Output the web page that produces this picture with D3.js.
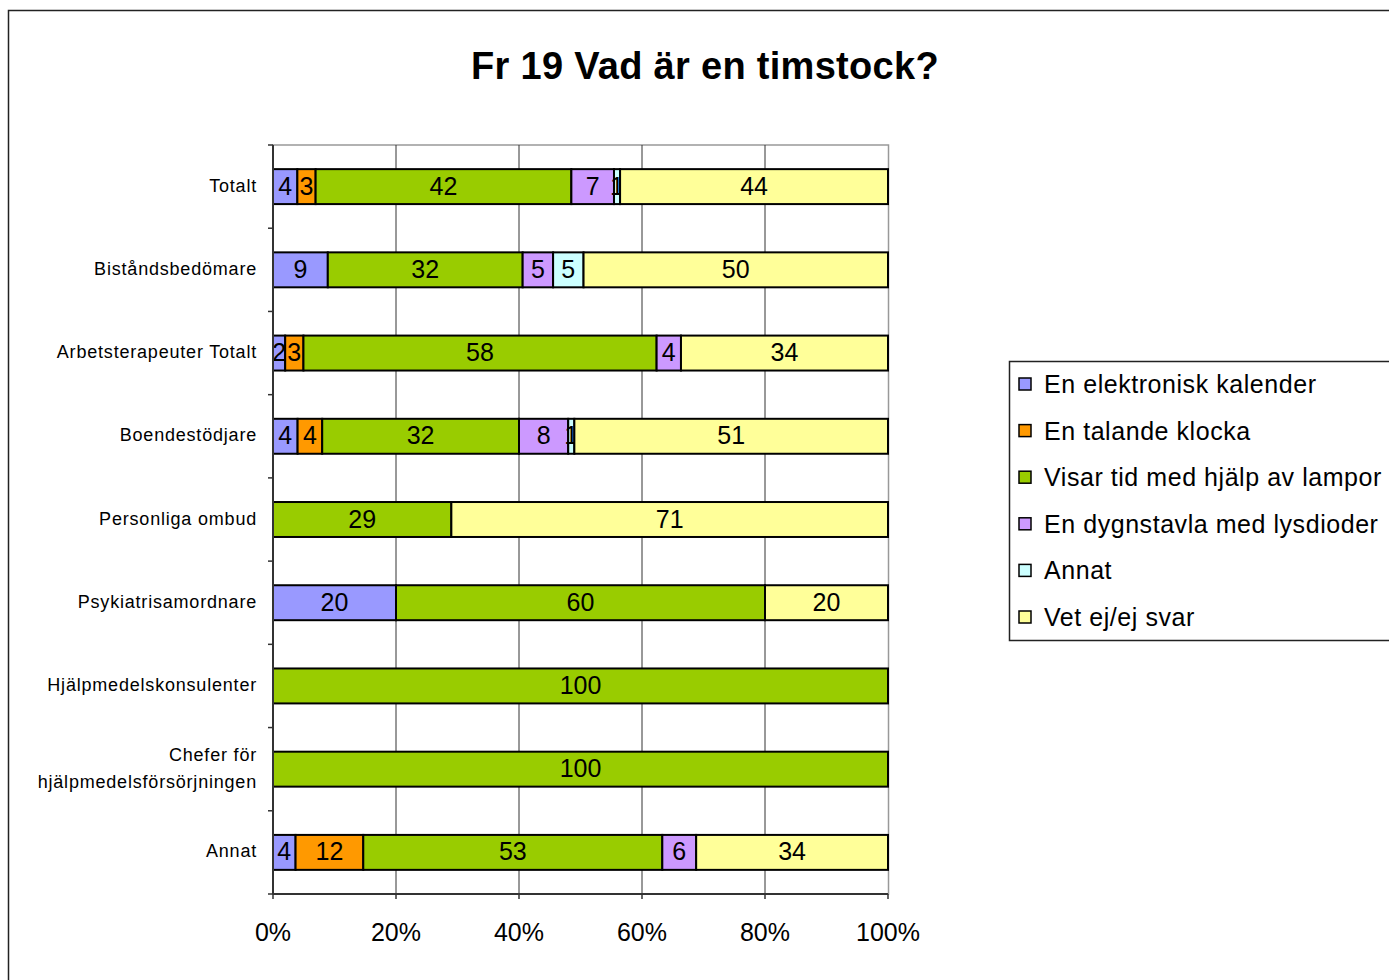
<!DOCTYPE html>
<html>
<head>
<meta charset="utf-8">
<script src="https://cdn.jsdelivr.net/npm/d3@7"></script>
<style>
  body { margin: 0; background: #fff; }
  svg { font-family: "Liberation Sans", Arial, sans-serif; }
</style>
</head>
<body>
<div id="chart"></div>
<script>
var categories = ['Totalt', 'Biståndsbedömare', 'Arbetsterapeuter Totalt', 'Boendestödjare',
  'Personliga ombud', 'Psykiatrisamordnare', 'Hjälpmedelskonsulenter',
  'Chefer för\nhjälpmedelsförsörjningen', 'Annat'];
var seriesNames = ['En elektronisk kalender', 'En talande klocka', 'Visar tid med hjälp av lampor',
  'En dygnstavla med lysdioder', 'Annat', 'Vet ej/ej svar'];
var colors = ['#9999ff', '#ff9900', '#99cc00', '#cc99ff', '#ccffff', '#ffff99'];

// one array per series, in category order
var kalender = [4, 9, 2, 4, 0, 20, 0, 0, 4];
var klocka   = [3, 0, 3, 4, 0, 0, 0, 0, 12];
var lampor   = [42, 32, 58, 32, 29, 60, 100, 100, 53];
var dygn     = [7, 5, 4, 8, 0, 0, 0, 0, 6];
var annat    = [1, 5, 0, 1, 0, 0, 0, 0, 0];
var vetej    = [44, 50, 34, 51, 71, 20, 0, 0, 34];
var xTicks = [0, 0.2, 0.4, 0.6, 0.8, 1];

var seriesVals = [kalender, klocka, lampor, dygn, annat, vetej];
var rows = categories.map(function(c, i) {
  var r = { cat: c };
  seriesNames.forEach(function(s, j) { r[s] = seriesVals[j][i]; });
  return r;
});

var width = 1389, height = 980;
var svg = d3.select('#chart').append('svg')
  .attr('width', width)
  .attr('height', height);

// outer chart border
svg.append('rect')
  .attr('x', 8.5).attr('y', 10.5)
  .attr('width', 1400).attr('height', 1000)
  .style('fill', 'none').style('stroke', '#222').style('stroke-width', 1.5);

svg.append('text')
  .attr('x', 705).attr('y', 79)
  .attr('text-anchor', 'middle')
  .style('font-size', '38px').style('font-weight', 'bold')
  .style('letter-spacing', '0.3px')
  .text('Fr 19 Vad är en timstock?');

var x = d3.scaleLinear().domain([0, 1]).range([273, 888]);
var y = d3.scaleBand().domain(categories).range([145, 894])
  .paddingInner(0.58).paddingOuter(0.29);

// plot area frame (top / right gray)
svg.append('rect')
  .attr('x', 273).attr('y', 145)
  .attr('width', 615.5).attr('height', 749)
  .style('fill', 'none').style('stroke', '#999').style('stroke-width', 1.5);

// gridlines
svg.selectAll('line.grid')
  .data(xTicks.slice(1, -1))
  .enter().append('line')
  .attr('x1', d => x(d)).attr('x2', d => x(d))
  .attr('y1', 145).attr('y2', 894)
  .style('stroke', '#333').style('stroke-width', 1);

var stack = d3.stack().keys(seriesNames).offset(d3.stackOffsetExpand);
var layers = stack(rows);

var g = svg.selectAll('g.layer')
  .data(layers)
  .enter().append('g')
  .style('fill', (d, i) => colors[i]);

var segs = g.selectAll('g.seg')
  .data(d => d.filter(p => p[1] - p[0] > 0).map(p => ({ p: p, v: p.data[d.key] })))
  .enter().append('g');

segs.append('rect')
  .attr('x', d => x(d.p[0]))
  .attr('y', d => y(d.p.data.cat))
  .attr('width', d => x(d.p[1]) - x(d.p[0]))
  .attr('height', y.bandwidth())
  .style('stroke', '#000').style('stroke-width', 2);

segs.append('text')
  .attr('x', d => (x(d.p[0]) + x(d.p[1])) / 2)
  .attr('y', d => y(d.p.data.cat) + y.bandwidth() / 2 + 8)
  .attr('text-anchor', 'middle')
  .style('fill', '#000').style('font-size', '25px')
  .text(d => d.v);

// y axis
svg.append('line')
  .attr('x1', 273).attr('x2', 273).attr('y1', 145).attr('y2', 894)
  .style('stroke', '#333').style('stroke-width', 2);
var bounds = categories.map((c, i) => 145 + i * y.step()).concat([894]);
svg.selectAll('line.ytick')
  .data(bounds)
  .enter().append('line')
  .attr('x1', 268).attr('x2', 273)
  .attr('y1', d => d).attr('y2', d => d)
  .style('stroke', '#333').style('stroke-width', 1.5);

// x axis
svg.append('line')
  .attr('x1', 273).attr('x2', 888).attr('y1', 894).attr('y2', 894)
  .style('stroke', '#333').style('stroke-width', 2);
svg.selectAll('line.xtick')
  .data(xTicks)
  .enter().append('line')
  .attr('x1', d => x(d)).attr('x2', d => x(d))
  .attr('y1', 894).attr('y2', 899)
  .style('stroke', '#333').style('stroke-width', 1.5);
svg.selectAll('text.xlab')
  .data(xTicks)
  .enter().append('text')
  .attr('x', d => x(d)).attr('y', 941)
  .attr('text-anchor', 'middle')
  .style('font-size', '25px')
  .text(d3.format('.0%'));

// category labels
var cl = svg.selectAll('text.cat')
  .data(categories)
  .enter().append('text')
  .attr('text-anchor', 'end')
  .style('font-size', '18px').style('letter-spacing', '0.8px')
  .attr('transform', d => 'translate(257,' + (y(d) + y.bandwidth() / 2) + ')');
cl.each(function(d) {
  var lines = d.split('\n');
  var t = d3.select(this);
  lines.forEach(function(l, i) {
    t.append('tspan').attr('x', 0)
      .attr('y', 5 + (i - (lines.length - 1) / 2) * 27)
      .text(l);
  });
});

// legend
svg.append('rect')
  .attr('x', 1009.5).attr('y', 361.5)
  .attr('width', 400).attr('height', 279)
  .style('fill', '#fff').style('stroke', '#222').style('stroke-width', 1.5);
var lg = svg.selectAll('g.leg')
  .data(seriesNames)
  .enter().append('g')
  .attr('transform', (d, i) => 'translate(1019,' + (384 + i * 46.6) + ')');
lg.append('rect')
  .attr('x', 0).attr('y', -6).attr('width', 12).attr('height', 12)
  .style('fill', (d, i) => colors[i])
  .style('stroke', '#000').style('stroke-width', 1.5);
lg.append('text')
  .attr('x', 25).attr('y', 9)
  .style('font-size', '25px').style('letter-spacing', '0.55px')
  .text(d => d);
</script>
</body>
</html>
